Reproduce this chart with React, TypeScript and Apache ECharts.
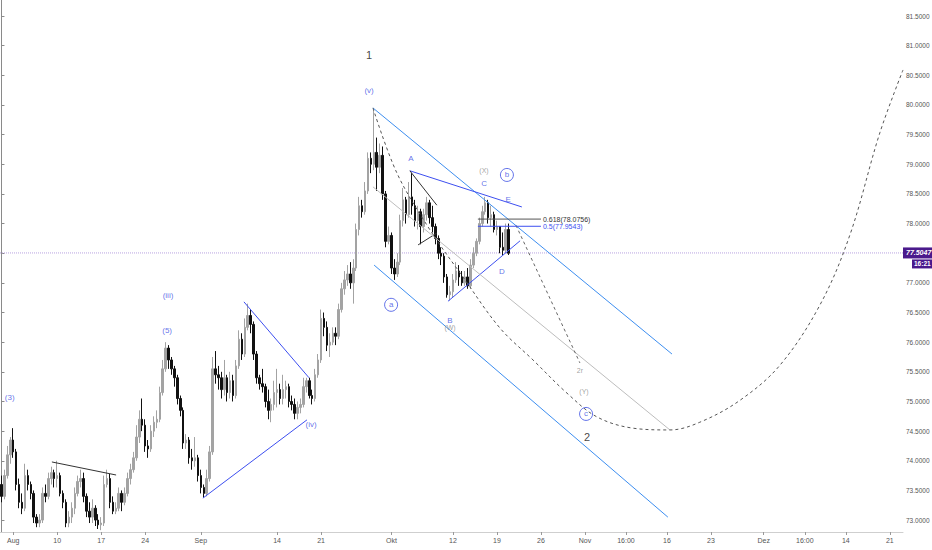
import React, { useEffect, useRef } from 'react';
import * as echarts from 'echarts';

// ---------- data ----------
const SLOT_COUNT = 308; // 8h bars incl. future projection area

const xTickLabels: [number, string][] = [
  [4, 'Aug'], [19, '10'], [34, '17'], [49, '24'], [68, 'Sep'], [94, '14'], [109, '21'],
  [133, 'Okt'], [154, '12'], [169, '19'], [184, '26'], [199, 'Nov'], [213, '16:00'],
  [227, '16'], [242, '23'], [260, 'Dez'], [274, '16:00'], [288, '14'], [303, '21'],
];

const priceTicks = [73.0, 73.5, 74.0, 74.5, 75.0, 75.5, 76.0, 76.5, 77.0, 77.5, 78.0, 78.5, 79.0, 79.5, 80.0, 80.5, 81.0, 81.5];

// [open, close, low, high]
const candles: number[][] = [
  [73.60, 73.40, 73.30, 73.75], [73.40, 73.75, 73.35, 73.85], [73.75, 74.10, 73.70, 74.25], [74.10, 74.35, 73.95, 74.40],
  [74.35, 74.15, 74.05, 74.55], [74.15, 73.60, 73.50, 74.20], [73.60, 73.30, 73.20, 73.70], [73.30, 73.20, 73.10, 73.45],
  [73.20, 73.75, 73.15, 73.95], [73.75, 73.60, 73.50, 73.85], [73.60, 73.45, 73.35, 73.65], [73.45, 73.05, 72.95, 73.50],
  [73.05, 72.95, 72.88, 73.10], [72.95, 73.00, 72.88, 73.10], [73.00, 73.45, 72.95, 73.55], [73.45, 73.40, 73.30, 73.60],
  [73.40, 73.70, 73.35, 73.80], [73.70, 73.80, 73.60, 73.90], [73.80, 73.70, 73.55, 73.85], [73.70, 73.75, 73.55, 74.00],
  [73.75, 73.45, 73.40, 73.80], [73.45, 73.30, 73.20, 73.50], [73.30, 72.95, 72.88, 73.35], [72.95, 73.05, 72.88, 73.15],
  [73.05, 73.20, 72.95, 73.30], [73.20, 73.45, 73.10, 73.55], [73.45, 73.65, 73.40, 73.75], [73.65, 73.70, 73.55, 73.85],
  [73.70, 73.40, 73.30, 73.80], [73.40, 73.15, 73.05, 73.45], [73.15, 73.05, 72.95, 73.30], [73.05, 73.20, 72.95, 73.35],
  [73.20, 73.00, 72.90, 73.25], [73.00, 72.92, 72.85, 73.10], [72.92, 72.95, 72.83, 73.05], [72.95, 73.60, 72.90, 73.75],
  [73.60, 73.70, 73.55, 73.85], [73.70, 73.30, 73.20, 73.78], [73.30, 73.15, 73.10, 73.40], [73.15, 73.20, 73.10, 73.30],
  [73.20, 73.45, 73.15, 73.55], [73.45, 73.30, 73.15, 73.50], [73.30, 73.45, 73.25, 73.55], [73.45, 73.70, 73.40, 73.80],
  [73.70, 73.85, 73.60, 73.95], [73.85, 74.05, 73.80, 74.15], [74.05, 74.40, 74.00, 74.60], [74.40, 74.70, 74.30, 74.85],
  [74.70, 74.60, 74.50, 75.05], [74.60, 74.25, 74.15, 74.70], [74.25, 74.20, 74.05, 74.35], [74.20, 74.50, 74.15, 74.60],
  [74.50, 74.65, 74.40, 74.75], [74.65, 74.70, 74.55, 74.85], [74.70, 75.15, 74.65, 75.25], [75.15, 75.55, 75.10, 75.70],
  [75.55, 75.90, 75.50, 76.00], [75.90, 75.70, 75.55, 75.95], [75.70, 75.55, 75.45, 75.75], [75.55, 75.40, 75.25, 75.60],
  [75.40, 75.05, 74.95, 75.45], [75.05, 74.85, 74.75, 75.10], [74.85, 74.30, 74.20, 74.90], [74.30, 74.35, 74.20, 74.45],
  [74.35, 74.05, 73.95, 74.40], [74.05, 74.00, 73.85, 74.20], [74.00, 74.05, 73.90, 74.40], [74.05, 73.75, 73.65, 74.10],
  [73.75, 73.55, 73.45, 73.85], [73.55, 73.45, 73.38, 73.60], [73.45, 73.70, 73.40, 73.85], [73.70, 74.15, 73.65, 74.25],
  [74.15, 75.55, 74.10, 75.75], [75.55, 75.45, 75.30, 75.85], [75.45, 75.40, 75.20, 75.60], [75.40, 75.20, 75.05, 75.50],
  [75.20, 75.40, 75.10, 75.70], [75.40, 75.15, 75.00, 75.45], [75.15, 75.35, 75.05, 75.50], [75.35, 75.10, 75.00, 75.45],
  [75.10, 75.60, 75.05, 75.70], [75.60, 76.05, 75.55, 76.20], [76.05, 75.80, 75.70, 76.15], [75.80, 76.25, 75.75, 76.40],
  [76.25, 76.45, 76.20, 76.65], [76.45, 76.30, 76.15, 76.55], [76.30, 75.80, 75.70, 76.35], [75.80, 75.40, 75.30, 75.85],
  [75.40, 75.30, 75.20, 75.45], [75.30, 75.25, 75.15, 75.55], [75.25, 75.00, 74.90, 75.30], [75.00, 74.85, 74.70, 75.20],
  [74.85, 74.95, 74.65, 75.05], [74.95, 75.15, 74.85, 75.35], [75.15, 75.20, 74.90, 75.55], [75.20, 75.05, 74.95, 75.30],
  [75.05, 75.20, 74.95, 75.45], [75.20, 75.25, 75.05, 75.35], [75.25, 75.00, 74.90, 75.30], [75.00, 74.95, 74.85, 75.10],
  [74.95, 74.80, 74.70, 75.05], [74.80, 74.90, 74.70, 75.00], [74.90, 74.95, 74.80, 75.05], [74.95, 75.25, 74.90, 75.40],
  [75.25, 75.35, 75.15, 75.40], [75.35, 75.10, 75.05, 75.40], [75.10, 75.05, 74.95, 75.20], [75.05, 75.45, 75.00, 75.55],
  [75.45, 75.70, 75.40, 75.80], [75.70, 76.40, 75.65, 76.55], [76.40, 76.25, 76.10, 76.50], [76.25, 75.95, 75.85, 76.35],
  [75.95, 76.00, 75.75, 76.15], [76.00, 76.15, 75.95, 76.25], [76.15, 76.10, 75.95, 76.25], [76.10, 76.55, 76.05, 76.65],
  [76.55, 76.90, 76.50, 77.00], [76.90, 77.05, 76.80, 77.20], [77.05, 77.15, 76.95, 77.30], [77.15, 77.00, 76.90, 77.35],
  [77.00, 77.25, 76.65, 77.40], [77.25, 77.90, 77.20, 78.00], [77.90, 78.30, 77.80, 78.45], [78.30, 78.20, 78.10, 78.40],
  [78.20, 78.55, 78.15, 78.70], [78.55, 79.10, 78.50, 79.20], [79.10, 79.00, 78.85, 79.20], [79.00, 79.20, 78.90, 79.95],
  [79.20, 78.95, 78.55, 79.45], [78.95, 79.15, 78.85, 79.35], [79.15, 78.50, 78.40, 79.30], [78.50, 77.70, 77.60, 78.55],
  [77.70, 77.80, 77.65, 77.95], [77.80, 77.25, 77.15, 77.85], [77.25, 77.15, 77.05, 77.40], [77.15, 77.35, 77.10, 77.50],
  [77.35, 78.05, 77.30, 78.15], [78.05, 78.40, 77.95, 78.60], [78.40, 78.15, 78.00, 78.45], [78.15, 78.45, 78.10, 78.70],
  [78.45, 78.30, 78.15, 78.85], [78.30, 78.05, 77.95, 78.40], [78.05, 78.20, 77.90, 78.30], [78.20, 77.95, 77.65, 78.25],
  [77.95, 78.15, 77.85, 78.25], [78.15, 78.35, 78.05, 78.45], [78.35, 78.10, 78.00, 78.40], [78.10, 77.95, 77.85, 78.30],
  [77.95, 77.75, 77.65, 78.00], [77.75, 77.50, 77.40, 77.80], [77.50, 77.45, 77.30, 77.60], [77.45, 77.10, 77.00, 77.50],
  [77.10, 76.80, 76.75, 77.15], [76.80, 76.85, 76.70, 76.95], [76.85, 77.05, 76.75, 77.15], [77.05, 77.20, 77.00, 77.35],
  [77.20, 77.10, 76.95, 77.30], [77.10, 77.00, 76.95, 77.20], [77.00, 77.10, 76.95, 77.20], [77.10, 76.95, 76.90, 77.25],
  [76.95, 77.30, 76.90, 77.40], [77.30, 77.50, 77.25, 77.60], [77.50, 77.70, 77.45, 77.75], [77.70, 78.00, 77.65, 78.10],
  [78.00, 78.20, 77.95, 78.30], [78.20, 78.35, 78.15, 78.45], [78.35, 78.10, 78.00, 78.40], [78.10, 78.15, 77.95, 78.30],
  [78.15, 77.90, 77.85, 78.20], [77.90, 77.95, 77.80, 78.05], [77.95, 77.60, 77.50, 77.95], [77.60, 77.55, 77.47, 77.85],
  [77.55, 77.90, 77.50, 78.00], [77.90, 77.50, 77.47, 78.00],
];

const lastPrice = 77.5047;
const lastTime = '16:21';

// drawings, in [bar slot, price]
const triangleLines: number[][][] = [
  [[68.7, 73.37], [104.2, 74.69]],
  [[82.7, 76.68], [104.9, 75.40]],
  [[139.3, 78.89], [177.5, 78.28]],
  [[152.3, 76.69], [176.9, 77.71]],
];
const channelLines: number[][][] = [
  [[126.7, 79.95], [228.7, 75.80]],
  [[127.1, 77.30], [227.3, 73.05]],
];
const blackLines: number[][][] = [
  [[17.2, 73.98], [39.1, 73.76]],
  [[139.3, 78.89], [148.5, 78.31]],
  [[142.1, 77.64], [148.5, 77.84]],
];
const grayLines: number[][][] = [
  [[126.7, 78.62], [228.0, 74.52]],
];
const dashedLines: number[][][] = [
  [[175.5, 77.97], [197.3, 75.65]],
];
const projectionCurve: number[][] = [
  [126.7, 79.95], [134.9, 78.85], [146.2, 77.89], [157.4, 77.10], [170.0, 76.24], [181.3, 75.70],
  [192.9, 75.14], [203.1, 74.74], [215.4, 74.55], [228.0, 74.52], [238.2, 74.65], [251.9, 75.02],
  [265.5, 75.61], [279.2, 76.63], [289.4, 77.81], [299.6, 79.53], [307.5, 80.59],
];
const fibStart = 162.5;
const fibEnd = 184.0;
const fibLevels: [number, string][] = [[78.0756, '0.618(78.0756)'], [77.9543, '0.5(77.9543)']];

const blueLabels: [string, number, number][] = [
  ['(3)', 2.8, 75.06], ['(iii)', 56.8, 76.79], ['(5)', 56.5, 76.19], ['(iv)', 105.6, 74.62],
  ['(v)', 125.4, 80.24], ['A', 139.7, 79.09], ['C', 164.6, 78.68], ['E', 172.8, 78.40],
  ['D', 170.7, 77.20], ['B', 153.0, 76.36],
];
const grayLabels: [string, number, number][] = [
  ['(X)', 164.6, 78.90], ['(W)', 153.0, 76.24], ['2r', 197.3, 75.53], ['(Y)', 198.7, 75.16],
];
const blackLabels: [string, number, number][] = [
  ['1', 125.4, 80.84], ['2', 199.7, 74.40],
];
const circledLabels: [string, number, number][] = [
  ['b', 172.4, 78.82], ['a', 132.9, 76.63], ['c', 199.4, 74.79],
];

// ---------- styles ----------
const FONT = '"Liberation Sans", Arial, sans-serif';
const WAVE_BLUE = '#3b4fe4';
const TRI_BLUE = '#3d4ff0';
const CHAN_BLUE = '#3d8ef0';
const UP = '#a3a3a3';
const DOWN = '#111111';
const PURPLE = '#4a1a8c';

export default function App() {
  const ref = useRef<HTMLDivElement>(null);

  useEffect(() => {
    document.body.style.margin = '0';
    if (!ref.current) return;
    const chart = echarts.init(ref.current, null, { renderer: 'svg' });

    const labelMap = new Map<number, string>(xTickLabels);
    const categories = Array.from({ length: SLOT_COUNT }, (_, i) => String(i));

    const lineSeries = (segs: number[][][], color: string, type: any, width = 1) =>
      segs.map((seg) => ({
        type: 'line',
        xAxisIndex: 1,
        yAxisIndex: 0,
        data: seg,
        symbol: 'none',
        silent: true,
        lineStyle: { color, width, type },
        z: 3,
      }));

    const textSeries = (items: [string, number, number][], color: string, fontSize: number) => ({
      type: 'scatter',
      xAxisIndex: 1,
      yAxisIndex: 0,
      symbolSize: 1,
      itemStyle: { color: 'rgba(0,0,0,0)' },
      silent: true,
      z: 5,
      data: items.map(([t, x, y]) => ({
        value: [x, y],
        label: {
          show: true,
          position: 'inside',
          formatter: t,
          color,
          fontSize,
          fontFamily: FONT,
        },
      })),
    });

    const option: any = {
      animation: false,
      backgroundColor: '#ffffff',
      textStyle: { fontFamily: FONT },
      grid: { left: 0, right: 29, top: 0, bottom: 18, containLabel: false, outerBoundsMode: 'none' },
      xAxis: [
        {
          type: 'category',
          data: categories,
          boundaryGap: true,
          axisLine: { show: true, lineStyle: { color: '#cfcfcf', width: 1 } },
          axisTick: {
            show: true,
            alignWithLabel: true,
            length: 3,
            interval: (i: number) => labelMap.has(i),
            lineStyle: { color: '#999' },
          },
          axisLabel: {
            show: true,
            interval: (i: number) => labelMap.has(i),
            formatter: (_v: string, i: number) => labelMap.get(i) ?? '',
            color: '#555',
            fontSize: 7,
            margin: 5,
            fontFamily: FONT,
          },
          splitLine: { show: false },
        },
        {
          type: 'value',
          min: -0.5,
          max: SLOT_COUNT - 0.5,
          show: false,
          position: 'top',
          splitLine: { show: false },
        },
      ],
      yAxis: {
        type: 'value',
        position: 'right',
        min: 72.799,
        max: 81.77,
        scale: true,
        splitLine: { show: false },
        axisLine: { show: true, lineStyle: { color: '#8a8a8a', width: 1 } },
        axisTick: { show: true, length: 3, customValues: priceTicks, lineStyle: { color: '#8a8a8a' } },
        axisLabel: {
          show: true,
          customValues: priceTicks,
          formatter: (v: number) => v.toFixed(4),
          color: '#555',
          fontSize: 6.5,
          margin: 3,
          fontFamily: FONT,
        },
      },
      series: [
        {
          type: 'candlestick',
          xAxisIndex: 0,
          yAxisIndex: 0,
          data: candles,
          barWidth: 2,
          itemStyle: { color: UP, color0: DOWN, borderColor: UP, borderColor0: DOWN, borderWidth: 1 },
          z: 2,
        },
        {
          type: 'line',
          xAxisIndex: 1,
          yAxisIndex: 0,
          data: [[-0.5, lastPrice], [SLOT_COUNT - 0.5, lastPrice]],
          symbol: 'none',
          silent: true,
          z: 1,
          lineStyle: { color: '#b8a2e0', width: 1, type: [1, 1] },
          endLabel: {
            show: true,
            distance: 0,
            formatter: `{e| }\n{a|${lastPrice.toFixed(4)}}\n{sp|}{b|${lastTime}}`,
            rich: {
              e: { fontSize: 7, lineHeight: 11, height: 11 },
              a: {
                backgroundColor: PURPLE, color: '#fff', fontSize: 7, fontWeight: 'bold', fontStyle: 'italic',
                padding: [2, 2, 2, 3], lineHeight: 11, fontFamily: FONT,
              },
              sp: { width: 9, lineHeight: 11 },
              b: {
                backgroundColor: PURPLE, color: '#fff', fontSize: 6.5, fontWeight: 'bold',
                padding: [1, 2, 1, 2], lineHeight: 11, fontFamily: FONT,
              },
            },
          },
        },
        ...lineSeries(channelLines, CHAN_BLUE, 'solid'),
        ...lineSeries(triangleLines, TRI_BLUE, 'solid'),
        ...lineSeries(blackLines, '#333333', 'solid'),
        ...lineSeries(grayLines, '#bdbdbd', 'solid'),
        ...lineSeries(dashedLines, '#666666', [3, 3]),
        {
          type: 'line',
          xAxisIndex: 1,
          yAxisIndex: 0,
          data: projectionCurve,
          smooth: 0.35,
          symbol: 'none',
          silent: true,
          lineStyle: { color: '#555555', width: 1, type: [3, 3] },
          z: 3,
        },
        ...fibLevels.map(([lvl, txt], k) => ({
          type: 'line',
          xAxisIndex: 1,
          yAxisIndex: 0,
          data: [[fibStart, lvl], [fibEnd, lvl]],
          symbol: 'none',
          silent: true,
          lineStyle: { color: k === 0 ? '#555555' : TRI_BLUE, width: 1 },
          endLabel: {
            show: true,
            formatter: txt,
            color: k === 0 ? '#333333' : TRI_BLUE,
            fontSize: 7,
            distance: 2,
            fontFamily: FONT,
          },
          z: 4,
        })),
        textSeries(blueLabels, WAVE_BLUE, 8),
        textSeries(grayLabels, '#8a8a8a', 7),
        textSeries(blackLabels, '#111111', 11),
        {
          type: 'scatter',
          xAxisIndex: 1,
          yAxisIndex: 0,
          symbol: 'circle',
          symbolSize: 13,
          silent: true,
          z: 5,
          itemStyle: { color: 'rgba(255,255,255,0)', borderColor: WAVE_BLUE, borderWidth: 1 },
          label: { show: true, position: 'inside', color: WAVE_BLUE, fontSize: 8, fontFamily: FONT },
          data: circledLabels.map(([t, x, y]) => ({ value: [x, y], label: { formatter: t } })),
        },
      ],
    };

    chart.setOption(option);
    return () => chart.dispose();
  }, []);

  return <div ref={ref} style={{ width: 932, height: 550, position: 'fixed', left: 0, top: 0 }} />;
}
